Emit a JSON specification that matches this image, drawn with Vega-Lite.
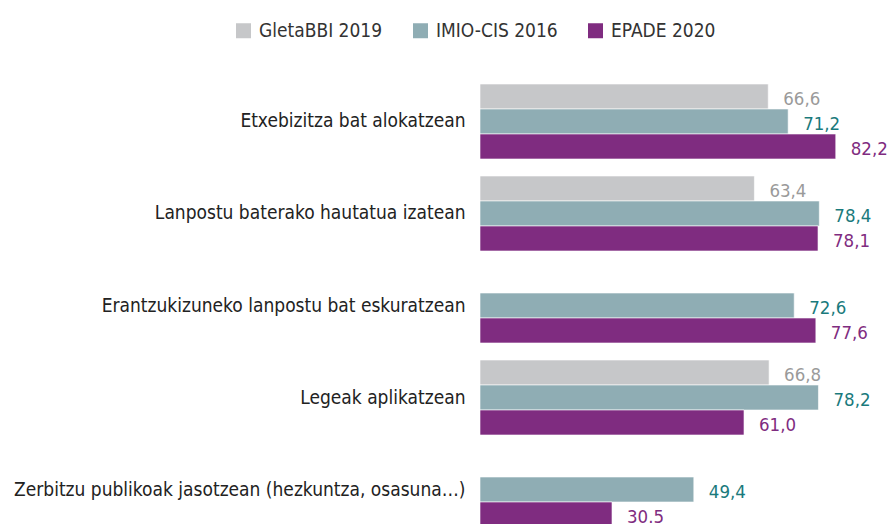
{
  "$schema": "https://vega.github.io/schema/vega-lite/v6.json",
  "autosize": "none",
  "width": 409,
  "height": 443,
  "padding": {"left": 480, "top": 84, "right": 0, "bottom": 0},
  "background": "white",
  "config": {
    "font": "DejaVu Sans Condensed, Liberation Sans Narrow, sans-serif",
    "view": {"stroke": null}
  },
  "data": {
    "values": [
      {"cat": "Etxebizitza bat alokatzean", "series": "GletaBBI 2019", "value": 66.6, "label": "66,6"},
      {"cat": "Etxebizitza bat alokatzean", "series": "IMIO-CIS 2016", "value": 71.2, "label": "71,2"},
      {"cat": "Etxebizitza bat alokatzean", "series": "EPADE 2020", "value": 82.2, "label": "82,2"},
      {"cat": "Lanpostu baterako hautatua izatean", "series": "GletaBBI 2019", "value": 63.4, "label": "63,4"},
      {"cat": "Lanpostu baterako hautatua izatean", "series": "IMIO-CIS 2016", "value": 78.4, "label": "78,4"},
      {"cat": "Lanpostu baterako hautatua izatean", "series": "EPADE 2020", "value": 78.1, "label": "78,1"},
      {"cat": "Erantzukizuneko lanpostu bat eskuratzean", "series": "IMIO-CIS 2016", "value": 72.6, "label": "72,6"},
      {"cat": "Erantzukizuneko lanpostu bat eskuratzean", "series": "EPADE 2020", "value": 77.6, "label": "77,6"},
      {"cat": "Legeak aplikatzean", "series": "GletaBBI 2019", "value": 66.8, "label": "66,8"},
      {"cat": "Legeak aplikatzean", "series": "IMIO-CIS 2016", "value": 78.2, "label": "78,2"},
      {"cat": "Legeak aplikatzean", "series": "EPADE 2020", "value": 61.0, "label": "61,0"},
      {"cat": "Zerbitzu publikoak jasotzean (hezkuntza, osasuna…)", "series": "IMIO-CIS 2016", "value": 49.4, "label": "49,4"},
      {"cat": "Zerbitzu publikoak jasotzean (hezkuntza, osasuna…)", "series": "EPADE 2020", "value": 30.5, "label": "30.5"}
    ]
  },
  "encoding": {
    "y": {
      "field": "cat", "type": "nominal", "sort": null, "title": null,
      "scale": {"paddingInner": 0.1848, "paddingOuter": 0},
      "axis": {"ticks": false, "domain": false, "labelPadding": 15, "labelFontSize": 19, "labelColor": "#222222", "labelLimit": 600}
    },
    "yOffset": {
      "field": "series", "type": "nominal",
      "scale": {"domain": ["GletaBBI 2019", "IMIO-CIS 2016", "EPADE 2020"], "paddingInner": 0, "paddingOuter": 0}
    },
    "x": {
      "field": "value", "type": "quantitative", "title": null,
      "scale": {"domain": [0, 94.5], "nice": false, "zero": true},
      "axis": null
    }
  },
  "layer": [
    {
      "mark": {"type": "bar", "stroke": "white", "strokeWidth": 0.6},
      "encoding": {
        "color": {
          "field": "series", "type": "nominal", "title": null,
          "scale": {"domain": ["GletaBBI 2019", "IMIO-CIS 2016", "EPADE 2020"], "range": ["#c6c7c9", "#8fadb4", "#7f2c80"]},
          "legend": {
            "orient": "none", "direction": "horizontal",
            "legendX": -246, "legendY": -63,
            "symbolType": "square", "symbolSize": 225, "symbolStrokeWidth": 0,
            "labelFontSize": 19, "labelColor": "#333333", "labelOffset": 6,
            "columnPadding": 28, "labelLimit": 300
          }
        }
      }
    },
    {
      "mark": {"type": "text", "align": "left", "baseline": "middle", "dx": 15, "dy": 2.5, "fontSize": 18.5},
      "encoding": {
        "text": {"field": "label"},
        "fill": {
          "field": "series", "type": "nominal", "legend": null,
          "scale": {"domain": ["GletaBBI 2019", "IMIO-CIS 2016", "EPADE 2020"], "range": ["#9a9a9a", "#1a7a7c", "#7f2c80"]}
        }
      }
    }
  ]
}
